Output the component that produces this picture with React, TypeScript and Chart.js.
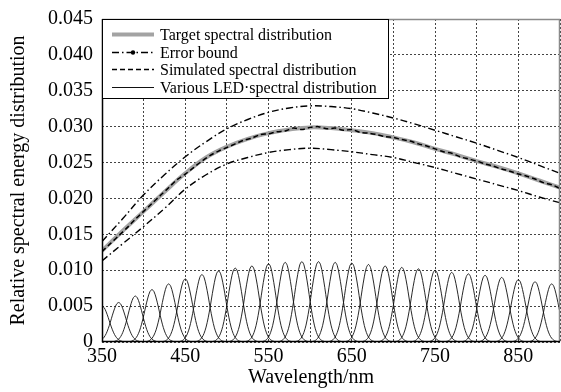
import React, { useEffect, useRef } from 'react';
import { Chart, registerables } from 'chart.js';

Chart.register(...registerables);

// ---- data ----
const WAVELENGTHS = [350, 375, 400, 425, 450, 475, 500, 525, 550, 575, 600, 625, 650, 675, 700, 725, 750, 775, 800, 825, 850, 875, 900];
const TARGET = [0.0127, 0.0155, 0.0182, 0.0209, 0.0235, 0.0257, 0.0272, 0.0283, 0.0291, 0.0296, 0.0299, 0.0298, 0.0295, 0.0291, 0.0285, 0.0278, 0.0269, 0.0261, 0.0252, 0.0244, 0.0235, 0.0225, 0.0215];
const UPPER_BOUND = [0.0140, 0.0172, 0.0205, 0.0233, 0.0258, 0.0279, 0.0297, 0.0310, 0.0320, 0.0326, 0.0329, 0.0328, 0.0325, 0.0319, 0.0312, 0.0304, 0.0295, 0.0286, 0.0277, 0.0267, 0.0257, 0.0246, 0.0235];
const LOWER_BOUND = [0.0113, 0.0137, 0.0161, 0.0186, 0.0213, 0.0233, 0.0248, 0.0257, 0.0264, 0.0268, 0.0270, 0.0268, 0.0265, 0.0261, 0.0257, 0.0250, 0.0243, 0.0235, 0.0227, 0.0219, 0.0211, 0.0202, 0.0194];

const SIM_WAVELENGTHS = [350, 360, 370, 380, 390, 400, 410, 420, 430, 440, 450, 460, 470, 480, 490, 500, 510, 520, 530, 540, 550, 560, 570, 580, 590, 600, 610, 620, 630, 640, 650, 660, 670, 680, 690, 700, 710, 720, 730, 740, 750, 760, 770, 780, 790, 800, 810, 820, 830, 840, 850, 860, 870, 880, 890, 900];
const SIMULATED = [0.0126, 0.0137, 0.0148, 0.0159, 0.0171, 0.0182, 0.0193, 0.0204, 0.0215, 0.0226, 0.0234, 0.0243, 0.0252, 0.0260, 0.0266, 0.0271, 0.0276, 0.0281, 0.0284, 0.0289, 0.0290, 0.0293, 0.0294, 0.0298, 0.0296, 0.0299, 0.0300, 0.0297, 0.0298, 0.0295, 0.0296, 0.0292, 0.0291, 0.0289, 0.0286, 0.0285, 0.0282, 0.0280, 0.0276, 0.0273, 0.0269, 0.0265, 0.0263, 0.0258, 0.0255, 0.0252, 0.0248, 0.0245, 0.0241, 0.0238, 0.0234, 0.0231, 0.0227, 0.0222, 0.0219, 0.0214];

const LED_PEAKS = [350, 370, 390, 410, 430, 450, 470, 490, 510, 530, 550, 570, 590, 610, 630, 650, 670, 690, 710, 730, 750, 770, 790, 810, 830, 850, 870, 890];
const LED_HEIGHTS = [0.0050, 0.0055, 0.0064, 0.0073, 0.0081, 0.0088, 0.0094, 0.0099, 0.0103, 0.0106, 0.0109, 0.0111, 0.0112, 0.0112, 0.0111, 0.0110, 0.0108, 0.0106, 0.0104, 0.0102, 0.0100, 0.0097, 0.0095, 0.0093, 0.0090, 0.0087, 0.0084, 0.0081];
// relative LED spectral shape (offset from peak in nm, fraction of peak)
const LED_PROFILE_OFFSETS = [-30, -27.5, -25, -22.5, -20, -17.5, -15, -12.5, -10, -7.5, -5, -2.5, 0, 2.5, 5, 7.5, 10, 12.5, 15, 17.5, 20, 22.5, 25, 27.5, 30];
const LED_PROFILE_SHAPE = [0.002, 0.005, 0.013, 0.03, 0.0625, 0.12, 0.21, 0.34, 0.5, 0.68, 0.84, 0.96, 1, 0.96, 0.84, 0.68, 0.5, 0.34, 0.21, 0.12, 0.0625, 0.03, 0.013, 0.005, 0.002];

const X_MIN = 350;
const X_MAX = 900;
const X_STEP = 50;
const X_LABEL_EVERY = 100;
const Y_MIN = 0;
const Y_MAX = 0.045;
const Y_STEP = 0.005;

const LEGEND_LABELS = ['Target spectral distribution', 'Error bound', 'Simulated spectral distribution', 'Various LED\u00b7spectral distribution'];
const X_TITLE = 'Wavelength/nm';
const Y_TITLE = 'Relative spectral energy distribution';

const SERIF = '"Liberation Serif", "Times New Roman", serif';

const toXY = (xs: number[], ys: number[]) => xs.map((x, i) => ({ x, y: ys[i] }));

const frameAndLegend = {
  id: 'frameAndLegend',
  afterDraw(chart: any) {
    const { ctx, chartArea } = chart;
    const { left, right, top, bottom } = chartArea;
    ctx.save();
    // box frame
    ctx.lineWidth = 1.5;
    ctx.strokeStyle = '#8a8a8a';
    ctx.beginPath();
    ctx.moveTo(left, top + 0.5);
    ctx.lineTo(right - 0.5, top + 0.5);
    ctx.lineTo(right - 0.5, bottom);
    ctx.stroke();
    ctx.lineWidth = 1.5;
    ctx.strokeStyle = '#000';
    ctx.beginPath();
    ctx.moveTo(left + 0.5, top);
    ctx.lineTo(left + 0.5, bottom - 0.5);
    ctx.lineTo(right, bottom - 0.5);
    ctx.stroke();

    // legend box
    const bx = Math.round(left) + 0.5;
    const by = Math.round(top) + 0.5;
    const bw = 286;
    const bh = 79;
    ctx.fillStyle = '#fff';
    ctx.fillRect(bx, by, bw, bh);
    ctx.lineWidth = 1;
    ctx.strokeStyle = '#000';
    ctx.strokeRect(bx, by, bw, bh);

    const rowY = [15, 33, 50, 68].map((d) => Math.round(top + d) + 0.5);
    const sx0 = left + 10;
    const sx1 = left + 52;
    const tx = left + 58;
    const ds = chart.data.datasets;
    const styles = [ds[0], ds[1], ds[3], ds[4]];
    styles.forEach((d: any, i: number) => {
      const y = rowY[i];
      ctx.save();
      ctx.strokeStyle = d.borderColor;
      ctx.lineWidth = i === 3 ? 1 : d.borderWidth;
      ctx.setLineDash(d.borderDash || []);
      ctx.beginPath();
      ctx.moveTo(sx0, y);
      ctx.lineTo(sx1, y);
      ctx.stroke();
      if (i === 1) {
        ctx.setLineDash([]);
        ctx.fillStyle = '#000';
        ctx.beginPath();
        ctx.arc((sx0 + sx1) / 2, y, 2.2, 0, Math.PI * 2);
        ctx.fill();
      }
      ctx.restore();
      ctx.fillStyle = '#000';
      ctx.font = `16px ${SERIF}`;
      ctx.textBaseline = 'middle';
      ctx.textAlign = 'left';
      ctx.fillText(LEGEND_LABELS[i], tx, y + 1);
    });

    // x-axis title
    ctx.font = `20px ${SERIF}`;
    ctx.textAlign = 'center';
    ctx.textBaseline = 'middle';
    ctx.fillStyle = '#000';
    ctx.fillText(X_TITLE, (left + right) / 2 - 20, bottom + 36);
    ctx.restore();
  },
};

export default function App() {
  const ref = useRef<HTMLCanvasElement | null>(null);

  useEffect(() => {
    document.body.style.margin = '0';
    const canvas = ref.current;
    if (!canvas) return;

    const ledDatasets = LED_PEAKS.map((p, k) => ({
      label: k === 0 ? LEGEND_LABELS[3] : `LED ${p}`,
      data: LED_PROFILE_OFFSETS.map((o, j) => ({ x: p + o, y: LED_HEIGHTS[k] * LED_PROFILE_SHAPE[j] })),
      borderColor: '#111',
      borderWidth: 0.9,
      pointRadius: 0,
      tension: 0.3,
      fill: false,
      order: 4,
    }));

    const chart = new Chart(canvas, {
      type: 'line',
      data: {
        datasets: [
          {
            label: LEGEND_LABELS[0],
            data: toXY(WAVELENGTHS, TARGET),
            borderColor: '#a3a3a3',
            borderWidth: 4,
            pointRadius: 0,
            tension: 0.4,
            order: 1,
          },
          {
            label: LEGEND_LABELS[1],
            data: toXY(WAVELENGTHS, UPPER_BOUND),
            borderColor: '#000',
            borderWidth: 1.4,
            borderDash: [7, 3, 1.5, 3],
            pointRadius: 0,
            tension: 0.4,
            order: 2,
          },
          {
            label: 'Error bound (lower)',
            data: toXY(WAVELENGTHS, LOWER_BOUND),
            borderColor: '#000',
            borderWidth: 1.4,
            borderDash: [7, 3, 1.5, 3],
            pointRadius: 0,
            tension: 0.4,
            order: 2,
          },
          {
            label: LEGEND_LABELS[2],
            data: toXY(SIM_WAVELENGTHS, SIMULATED),
            borderColor: '#000',
            borderWidth: 1.5,
            borderDash: [5, 3],
            pointRadius: 0,
            tension: 0.3,
            order: 0,
          },
          ...ledDatasets,
        ] as any,
      },
      options: {
        animation: false,
        responsive: false,
        maintainAspectRatio: false,
        layout: { padding: { top: 19, right: 1, left: 0, bottom: 0 } },
        plugins: {
          legend: { display: false },
          tooltip: { enabled: false },
        },
        scales: {
          x: {
            type: 'linear',
            min: X_MIN,
            max: X_MAX,
            afterFit: (s: any) => { s.height = 50; s.paddingLeft = 0; s.paddingRight = 0; },
            ticks: {
              stepSize: X_STEP,
              autoSkip: false,
              maxRotation: 0,
              padding: 3,
              color: '#000',
              font: { family: SERIF, size: 20 },
              callback: (v: any) => ((Number(v) - X_MIN) % X_LABEL_EVERY === 0 ? String(v) : ''),
            },
            grid: { color: '#444', lineWidth: 1, drawTicks: false },
            border: { display: false, dash: [2, 2] },
          },
          y: {
            type: 'linear',
            min: Y_MIN,
            max: Y_MAX,
            afterFit: (s: any) => { s.width = 102; s.paddingTop = 0; s.paddingBottom = 0; },
            ticks: {
              stepSize: Y_STEP,
              padding: 9,
              color: '#000',
              font: { family: SERIF, size: 20 },
              callback: (v: any) => (Number(v) === 0 ? '0' : Number(v).toFixed(3)),
            },
            grid: { color: '#444', lineWidth: 1, drawTicks: false },
            border: { display: false, dash: [2, 2] },
            title: {
              display: true,
              text: Y_TITLE,
              color: '#000',
              font: { family: SERIF, size: 20 },
              padding: { top: 7, bottom: 0 },
            },
          },
        },
      } as any,
      plugins: [frameAndLegend],
    });

    return () => chart.destroy();
  }, []);

  return (
    <div style={{ width: 561, height: 392 }}>
      <canvas ref={ref} width={561} height={392} style={{ display: 'block' }} />
    </div>
  );
}
